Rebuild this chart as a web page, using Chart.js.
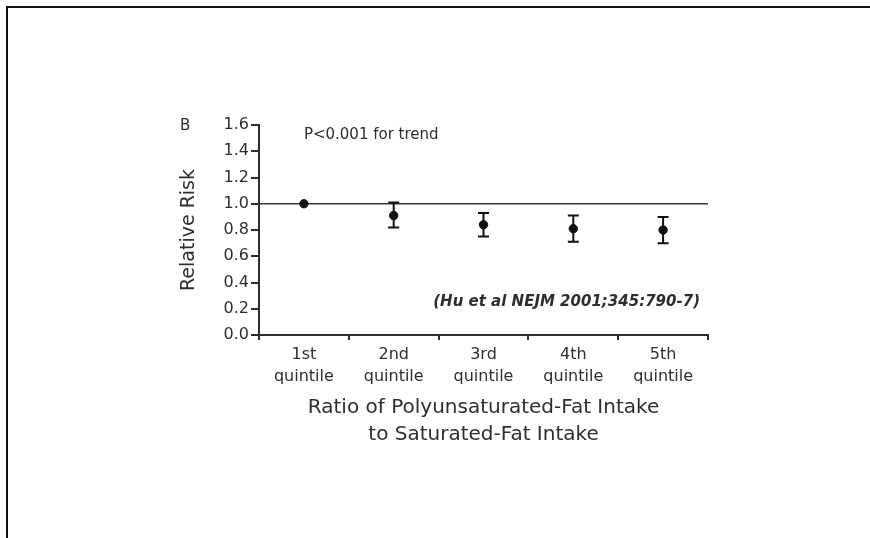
<!DOCTYPE html>
<html>
<head>
<meta charset="utf-8">
<script src="https://cdn.jsdelivr.net/npm/chart.js@4"></script>
<style>
  html, body { margin: 0; padding: 0; background: #fff; }
  #wrap { position: relative; width: 870px; height: 538px; overflow: hidden; }
  #frame { position: absolute; left: 6px; top: 6px; width: 900px; height: 600px;
           border-top: 2px solid #111; border-left: 2px solid #111; }
  canvas { position: absolute; left: 0; top: 0; }
</style>
</head>
<body>
<div id="wrap">
  <div id="frame"></div>
  <canvas id="rr" width="870" height="538"></canvas>
</div>
<script>
// quintiles of polyunsaturated / saturated fat ratio
const quintiles = [["1st", "quintile"], ["2nd", "quintile"], ["3rd", "quintile"], ["4th", "quintile"], ["5th", "quintile"]];
const relRisk = [1.00, 0.91, 0.84, 0.81, 0.80];
const ciLow = [null, 0.82, 0.75, 0.71, 0.70];
const ciHigh = [null, 1.01, 0.93, 0.91, 0.90];
const yTicks = [0, 0.2, 0.4, 0.6, 0.8, 1.0, 1.2, 1.4, 1.6];

const ink = "#2e2e2e";
const font = "'DejaVu Sans', sans-serif";

// reference line at RR = 1 and the CI whiskers
const errorBars = {
  id: "errorBars",
  beforeDatasetsDraw(chart) {
    const { ctx, chartArea, scales } = chart;
    const y1 = scales.y.getPixelForValue(1);
    ctx.save();
    ctx.strokeStyle = "#3a3a3a";
    ctx.lineWidth = 1.6;
    ctx.beginPath();
    ctx.moveTo(chartArea.left, y1);
    ctx.lineTo(chartArea.right, y1);
    ctx.stroke();
    ctx.restore();
  },
  afterDatasetsDraw(chart) {
    const { ctx, scales } = chart;
    ctx.save();
    ctx.strokeStyle = "#111";
    ctx.lineWidth = 2;
    relRisk.forEach((v, i) => {
      if (ciLow[i] == null) return;
      const x = scales.x.getPixelForValue(i);
      const lo = scales.y.getPixelForValue(ciLow[i]);
      const hi = scales.y.getPixelForValue(ciHigh[i]);
      ctx.beginPath();
      ctx.moveTo(x, lo); ctx.lineTo(x, hi);
      ctx.moveTo(x - 5.5, lo); ctx.lineTo(x + 5.5, lo);
      ctx.moveTo(x - 5.5, hi); ctx.lineTo(x + 5.5, hi);
      ctx.stroke();
    });
    ctx.restore();
  }
};

const notes = {
  id: "notes",
  afterDraw(chart) {
    const { ctx, chartArea, scales } = chart;
    ctx.save();
    ctx.fillStyle = ink;
    ctx.textBaseline = "middle";
    ctx.font = "15px " + font;
    ctx.textAlign = "left";
    ctx.fillText("B", 180, chartArea.top + 1);
    ctx.fillText("P<0.001 for trend", scales.x.getPixelForValue(0), chartArea.top + 10);
    ctx.font = "italic bold 15px " + font;
    ctx.textAlign = "right";
    ctx.fillText("(Hu et al NEJM 2001;345:790-7)", chartArea.right - 8, chartArea.bottom - 33);
    ctx.restore();
  }
};

new Chart(document.getElementById("rr"), {
  type: "line",
  data: {
    labels: quintiles,
    datasets: [{
      data: relRisk,
      showLine: false,
      pointRadius: 4.2,
      pointHoverRadius: 4.2,
      pointBackgroundColor: "#111",
      pointBorderColor: "#111"
    }]
  },
  options: {
    responsive: false,
    animation: false,
    events: [],
    layout: { padding: { left: 178, top: 125, right: 162, bottom: 85 } },
    plugins: { legend: { display: false }, tooltip: { enabled: false } },
    scales: {
      x: {
        type: "category",
        offset: true,
        afterFit(s) { s.height = 118; },
        grid: { offset: true, drawOnChartArea: false, tickLength: 5, color: ink, lineWidth: 2 },
        border: { color: ink, width: 2 },
        ticks: { color: ink, padding: 4, font: { family: font, size: 16, lineHeight: 1.375 }, maxRotation: 0 },
        title: {
          display: true,
          text: ["Ratio of Polyunsaturated-Fat Intake", "to Saturated-Fat Intake"],
          color: ink,
          font: { family: font, size: 20, lineHeight: 1.35 },
          padding: { top: 0, bottom: 4.5 }
        }
      },
      y: {
        min: 0,
        max: 1.6,
        afterFit(s) { s.width = 81; },
        afterBuildTicks(s) { s.ticks = yTicks.map(v => ({ value: v })); },
        grid: { drawOnChartArea: false, tickLength: 8, color: ink, lineWidth: 2 },
        border: { color: ink, width: 2 },
        ticks: { color: ink, padding: 2, font: { family: font, size: 16 }, callback: v => v.toFixed(1) },
        title: {
          display: true,
          text: "Relative Risk",
          color: ink,
          font: { family: font, size: 19, lineHeight: 1.2 },
          padding: { top: 0, bottom: 0 }
        }
      }
    }
  },
  plugins: [errorBars, notes]
});
</script>
</body>
</html>
